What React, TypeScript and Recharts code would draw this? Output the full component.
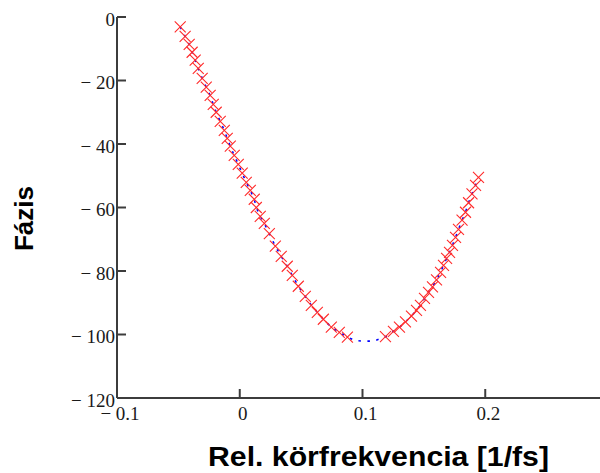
import * as React from "react";
import { ComposedChart, Line, Scatter, XAxis, YAxis } from "recharts";

// left branch of the measured phase (red crosses)
const FREQ_LEFT = [
  -0.0485, -0.0445, -0.0412, -0.0388, -0.0363, -0.0338, -0.0306, -0.0273, -0.0241, -0.0216,
  -0.0192, -0.0159, -0.0126, -0.0102, -0.0077, -0.0045, -0.0012, 0.002, 0.0053, 0.0086,
  0.0118, 0.0135, 0.0167, 0.02, 0.0241, 0.029, 0.0338, 0.0387, 0.0428, 0.0477,
  0.0534, 0.0583, 0.0632, 0.0681, 0.0746, 0.0811, 0.0877,
];
const PHASE_LEFT = [
  -3.1, -6.1, -8.6, -11.1, -13.6, -16.2, -19.3, -22.1, -24.7, -27.5,
  -30.0, -32.9, -35.7, -38.2, -40.7, -43.6, -46.4, -49.2, -52.1, -54.6,
  -57.4, -60.0, -62.8, -65.0, -68.2, -72.2, -75.4, -78.5, -81.4, -84.8,
  -88.0, -90.8, -93.0, -95.2, -97.7, -99.3, -100.8,
];
// bottom of the curve, only on the blue dotted line
const FREQ_GAP = [0.0942, 0.1015, 0.1089];
const PHASE_GAP = [-101.9, -102.1, -102.1];
// right branch
const FREQ_RIGHT = [
  0.1187, 0.1252, 0.1301, 0.135, 0.1399, 0.144, 0.1472, 0.1505, 0.1538, 0.157,
  0.1603, 0.1636, 0.166, 0.1685, 0.1709, 0.1733, 0.1758, 0.1782, 0.1811, 0.1839,
  0.1864, 0.1892, 0.1921, 0.1945,
];
const PHASE_RIGHT = [
  -100.7, -99.0, -97.7, -96.0, -94.2, -92.4, -90.8, -88.6, -86.7, -85.0,
  -82.8, -80.4, -78.2, -76.0, -74.1, -71.9, -69.4, -66.9, -64.0, -61.5,
  -58.5, -55.7, -53.0, -50.5,
];

const X_TICKS = [-0.1, 0, 0.1, 0.2, 0.3];
const Y_TICKS = [0, -20, -40, -60, -80, -100, -120];
const X_TITLE = "Rel. körfrekvencia [1/fs]";
const Y_TITLE = "Fázis";

const AXIS = "#3c3c3c";
const TEXT = "#1a1a1a";

const zip = (xs: number[], ys: number[]) => xs.map((x, i) => ({ x, y: ys[i] }));
const markers = [...zip(FREQ_LEFT, PHASE_LEFT), ...zip(FREQ_RIGHT, PHASE_RIGHT)];
const curve = [...zip(FREQ_LEFT, PHASE_LEFT), ...zip(FREQ_GAP, PHASE_GAP), ...zip(FREQ_RIGHT, PHASE_RIGHT)];

const minus = (v: number, s: string) => (v < 0 ? `\u2212 ${s.replace("-", "")}` : s);
const fmtX = (v: number) => (v === 0.3 ? "" : minus(v, String(v)));
const fmtY = (v: number) => minus(v, String(v));
const blank = () => "";

function Cross(props: { cx?: number; cy?: number }) {
  const { cx, cy } = props;
  if (cx == null || cy == null) return <g />;
  const r = 5.5;
  return (
    <path
      d={`M${cx - r},${cy - r}L${cx + r},${cy + r}M${cx - r},${cy + r}L${cx + r},${cy - r}`}
      stroke="#ff2a2a" strokeWidth={1.1} fill="none"
    />
  );
}

const tickFont = { fill: TEXT, fontSize: 19, fontFamily: "'Liberation Serif', serif" };
const line = { stroke: AXIS, strokeWidth: 2 };

export default function App() {
  return (
    <div style={{ position: "absolute", left: 0, top: 0, width: 600, height: 473, overflow: "hidden", background: "#fff" }}>
      <ComposedChart width={620} height={473} margin={{ top: 17, right: 12, bottom: 0, left: 0 }}>
        <XAxis
          dataKey="x" type="number" domain={[-0.1, 0.3]} ticks={X_TICKS} interval={0} allowDataOverflow
          height={75} tickSize={-9} tickMargin={18} axisLine={line} tickLine={line}
          tick={{ ...tickFont, dx: 3 }} tickFormatter={fmtX}
          label={{
            content: (p: any) => (
              <text x={p.viewBox.x + p.viewBox.width / 2 + 16} y={p.viewBox.y + 68} textAnchor="middle"
                fontFamily="'Liberation Sans', Arial, sans-serif" fontWeight="bold" fontSize={27}
                textLength={341} lengthAdjust="spacingAndGlyphs" fill="#000">
                {X_TITLE}
              </text>
            ),
          }}
        />
        <XAxis
          xAxisId="top" orientation="top" dataKey="x" type="number" domain={[-0.1, 0.3]} ticks={X_TICKS}
          interval={0} height={0} tickSize={-9} axisLine={line} tickLine={line} tickFormatter={blank}
        />
        <YAxis
          dataKey="y" type="number" domain={[-120, 0]} ticks={Y_TICKS} interval={0} allowDataOverflow
          width={117} tickSize={-9} tickMargin={11} axisLine={line} tickLine={line}
          tick={{ ...tickFont, dy: 2 }} tickFormatter={fmtY}
          label={{
            content: (p: any) => (
              <text transform={`translate(${p.viewBox.x + 33}, ${p.viewBox.y + p.viewBox.height / 2 + 11}) rotate(-90)`}
                textAnchor="middle" fontFamily="'Liberation Sans', Arial, sans-serif" fontWeight="bold"
                fontSize={26} fill="#000">
                {Y_TITLE}
              </text>
            ),
          }}
        />
        <YAxis
          yAxisId="right" orientation="right" type="number" domain={[-120, 0]} ticks={Y_TICKS} interval={0}
          width={0} tickSize={-9} axisLine={line} tickLine={line} tickFormatter={blank}
        />
        <Line data={curve} dataKey="y" type="linear" stroke="#0000ff" strokeWidth={1.6}
          strokeDasharray="2.5 6.5" dot={false} activeDot={false} isAnimationActive={false} />
        <Scatter data={markers} dataKey="y" shape={<Cross />} isAnimationActive={false} />
      </ComposedChart>
    </div>
  );
}
